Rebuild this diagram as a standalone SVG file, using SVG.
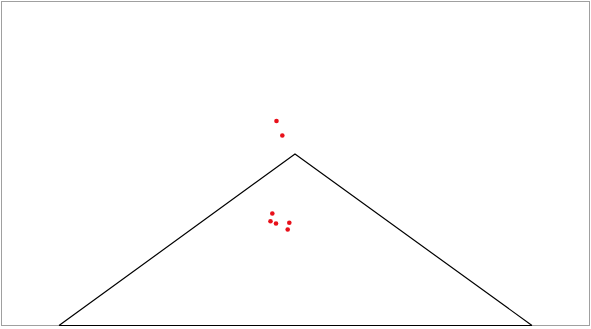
<svg xmlns="http://www.w3.org/2000/svg" width="591" height="329" viewBox="0 0 591 329">
<style>
.dot{fill:#e8101a}
</style>
<rect width="591" height="329" fill="#fff"/>
<rect x="1.5" y="1.5" width="588" height="324" fill="none" stroke="#a0a0a0" stroke-width="1"/>
<g id="triangle"><path d="M59,325.5 L295,154 L532,325.5" fill="none" stroke="#000" stroke-width="1.2"/><path d="M59,325.5 H532" stroke="#000" stroke-width="1.2"/></g>
<g id="points">
<circle class="dot" cx="276.5" cy="121" r="2.3"/>
<circle class="dot" cx="282.3" cy="135.5" r="2.3"/>
<circle class="dot" cx="272.3" cy="213.5" r="2.3"/>
<circle class="dot" cx="270.5" cy="221.3" r="2.3"/>
<circle class="dot" cx="276" cy="223.5" r="2.3"/>
<circle class="dot" cx="289.3" cy="222.7" r="2.3"/>
<circle class="dot" cx="287.7" cy="229.5" r="2.3"/>
</g>
</svg>
